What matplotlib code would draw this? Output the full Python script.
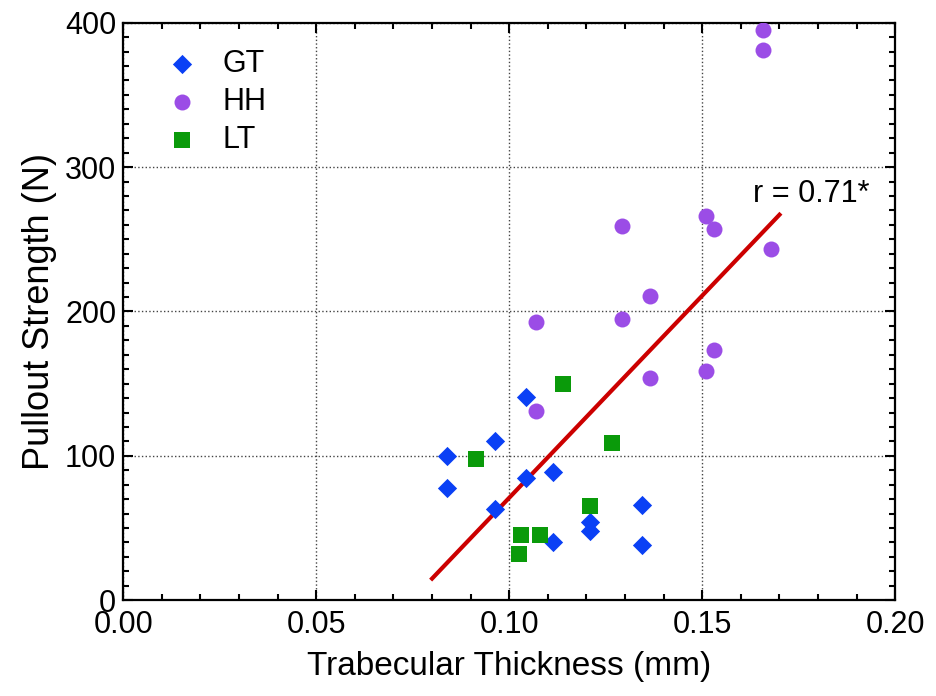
import matplotlib
matplotlib.use('Agg')
import matplotlib.pyplot as plt
from matplotlib.ticker import MultipleLocator

plt.rcParams['font.family'] = ['Liberation Sans', 'DejaVu Sans']

# trabecular thickness (mm) and pullout strength (N)
gt_x = [0.1043, 0.0963, 0.0838, 0.0838, 0.1043, 0.1114, 0.0963, 0.1209, 0.1209, 0.1345, 0.1114, 0.1345]
gt_y = [141, 110, 100, 78, 85, 89, 63, 54, 48, 66, 40, 38]

hh_x = [0.1069, 0.1069, 0.1293, 0.1293, 0.1364, 0.1364, 0.1509, 0.1509, 0.1530, 0.1530, 0.1658, 0.1658, 0.1677]
hh_y = [131, 193, 259, 195, 211, 154, 266, 159, 257, 173, 395, 381, 243]

lt_x = [0.1140, 0.0914, 0.1265, 0.1209, 0.1030, 0.1080, 0.1025]
lt_y = [150, 98, 109, 65, 45, 45, 32]

fit_x = [0.080, 0.170]
fit_y = [15, 267]

fig = plt.figure(figsize=(9.36, 6.96), dpi=100)
ax = fig.add_axes([0.1317, 0.1376, 0.8248, 0.8298])

ax.plot(fit_x, fit_y, color='#cc0000', linewidth=3, zorder=2)
ax.scatter(gt_x, gt_y, marker='D', s=9.8**2, color='#0a40f5', linewidths=0, label='GT', zorder=3)
ax.scatter(hh_x, hh_y, marker='o', s=11.5**2, color='#9b4de6', linewidths=0, label='HH', zorder=3)
ax.scatter(lt_x, lt_y, marker='s', s=11**2, color='#0a9a0a', linewidths=0, label='LT', zorder=3)

ax.text(0.1631, 276, 'r = 0.71*', fontsize=22, va='baseline', ha='left')

ax.set_xlim(0, 0.2)
ax.set_ylim(0, 400)
ax.xaxis.set_major_locator(MultipleLocator(0.05))
ax.xaxis.set_minor_locator(MultipleLocator(0.01))
ax.yaxis.set_major_locator(MultipleLocator(100))
ax.yaxis.set_minor_locator(MultipleLocator(10))
ax.xaxis.set_major_formatter(plt.FormatStrFormatter('%.2f'))

ax.tick_params(which='both', direction='in', top=True, right=True, width=1.5, labelsize=22)
ax.tick_params(which='major', length=7)
ax.tick_params(axis='x', which='major', pad=7)
ax.tick_params(axis='y', which='major', pad=5)
ax.tick_params(which='minor', length=4)
for sp in ax.spines.values():
    sp.set_linewidth(1.6)

ax.grid(True, which='major', linestyle=':', color='#444444', linewidth=1)

ax.set_xlabel('Trabecular Thickness (mm)', fontsize=24, labelpad=8)
ax.set_ylabel('Pullout Strength (N)', fontsize=26, labelpad=6)

ax.legend(loc='upper left', frameon=False, fontsize=22, handlelength=1.5, handletextpad=0.55,
          labelspacing=0.27, borderaxespad=0, bbox_to_anchor=(0.031, 0.976))

fig.savefig('out.png', dpi=100)
